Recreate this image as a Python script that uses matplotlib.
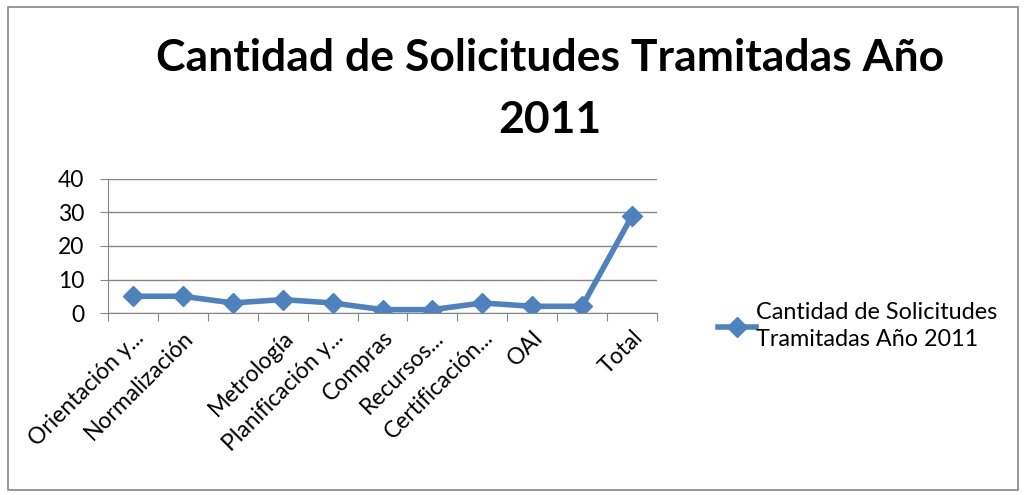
import numpy as np
import matplotlib.pyplot as plt
from matplotlib.patches import Rectangle

categorias = ["Orientación y...", "Normalización", "", "Metrología", "Planificación y...",
              "Compras", "Recursos...", "Certificación...", "OAI", "", "Total"]
valores = [5, 5, 3, 4, 3, 1, 1, 3, 2, 2, 29]
serie = "Cantidad de Solicitudes\nTramitadas Año 2011"
titulo = "Cantidad de Solicitudes Tramitadas Año\n2011"

plt.rcParams['font.family'] = ['Lato', 'DejaVu Sans']

fig = plt.figure(figsize=(10.24, 4.95), dpi=100)
ax = fig.add_axes([108/1024, 1 - 313/495, 549/1024, 134/495])

x = np.arange(len(valores))
ax.plot(x, valores, color='#4F81BD', lw=4, marker='D', ms=10, label=serie)

ax.set_xlim(-0.5, len(valores) - 0.5)
ax.set_ylim(0, 40)
ax.set_yticks([0, 10, 20, 30, 40])
ax.yaxis.grid(True, color='#868686', lw=1)
ax.set_axisbelow(True)
ax.set_xticks(np.arange(len(valores) + 1) - 0.5, minor=False)
ax.set_xticklabels([])
ax.set_xticks(x, minor=True)
ax.set_xticklabels(categorias, minor=True, rotation=45, ha='right', rotation_mode='anchor', fontsize=16.5)
ax.tick_params(axis='x', which='major', length=6, color='#868686')
ax.tick_params(axis='x', which='minor', length=0, pad=10)
ax.tick_params(axis='y', length=6, color='#868686', labelsize=16.5, pad=11)
for s in ['top', 'right']:
    ax.spines[s].set_visible(False)
for s in ['left', 'bottom']:
    ax.spines[s].set_color('#868686')

fig.text(550/1024, 1 - 89/495, titulo, ha='center', va='center', fontsize=32,
         fontweight='bold', linespacing=1.65)

leg = ax.legend(loc='center left', bbox_to_anchor=(1.095, -0.1), frameon=False, fontsize=16.8,
                handlelength=1.6, handletextpad=0.0, borderaxespad=0)
for t in leg.get_texts():
    t.set_linespacing(1.35)

fig.patches.append(Rectangle((8/1024, 5/495), 1010/1024, 483/495, transform=fig.transFigure,
                             fill=False, ec='#868686', lw=1.2))

fig.savefig('out.png', dpi=100)
